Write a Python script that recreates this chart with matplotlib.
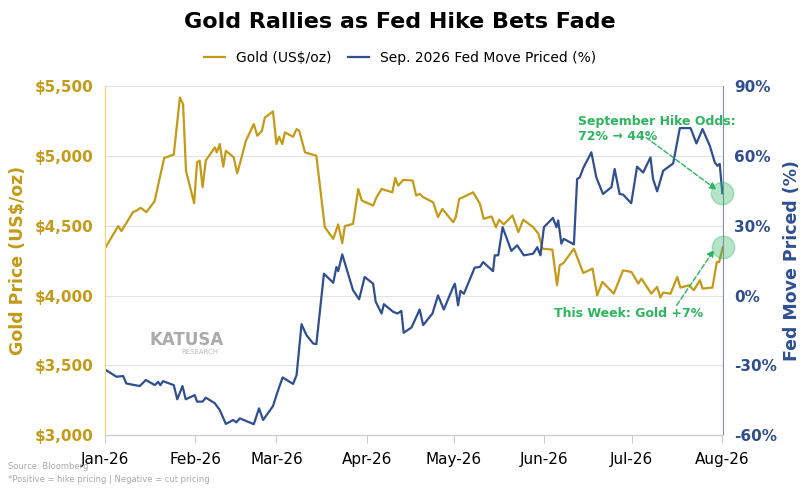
import matplotlib
matplotlib.use("Agg")
import matplotlib.pyplot as plt
import matplotlib.ticker as mt

# days since 2026-01-01
gold_days = [0,4.6,5.7,9.7,11,12.3,14.3,17.1,20.4,23.7,25.8,26.9,27.9,30.7,31.7,32.6,33.6,34.7,37.8,38.5,39.5,40.7,41.6,44.3,45.5,47,48.5,51.2,52.4,54,55,57.8,59,59.9,61,61.9,64.7,65.9,66.8,68.8,72.7,75.6,78.5,80.2,81.6,82.5,85.3,87.1,88.3,92.2,93.4,95.1,98.8,99.8,100.8,102.6,105.8,107,108.2,109.4,112.8,114.5,116,119.7,120.6,121.8,123.1,126.6,128.9,130.2,132.9,134.4,135.5,137.1,140.1,142.1,143.8,147.2,149,150.4,153.8,155.4,156.3,157.6,161.2,164.4,167.6,169.2,171,174.9,178.1,181,183.3,184.4,187.8,189.8,190.9,191.9,194.4,196.7,197.8,200.8,202.4,204.5,205.4,208.8,210.3,211.1,212.4]
gold_vals = [4336,4498,4462,4598,4610,4629,4598,4676,4986,5010,5419,5371,4895,4662,4955,4967,4776,4967,5062,5026,5086,4924,5038,4990,4876,4990,5110,5229,5145,5181,5276,5319,5086,5138,5086,5169,5138,5193,5181,5026,5002,4490,4407,4510,4376,4498,4514,4764,4681,4645,4705,4764,4740,4843,4788,4829,4824,4717,4729,4705,4669,4562,4621,4526,4562,4693,4705,4740,4657,4550,4567,4490,4543,4510,4574,4455,4543,4490,4443,4336,4329,4074,4217,4233,4336,4162,4193,4002,4098,4014,4181,4169,4086,4121,4014,4062,3986,4021,4014,4133,4057,4074,4038,4110,4050,4057,4240,4240,4348]
fed_days = [0,4,6.3,7.4,12,14.1,17.2,18.3,19.1,20,23.7,24.9,26.7,27.8,30.9,31.7,33.6,34.7,37.8,39.5,41.6,44.1,45.2,46.4,51.2,53,54.4,57.8,59.2,61.1,64.7,65.9,67.6,69.3,71.6,72.7,75.3,78.5,79.6,80.2,81.6,85.3,87.4,89.3,92.2,93.1,95.1,95.9,99.1,100.6,101.9,102.7,105.4,108.2,109.4,112.6,114.5,116.5,119.7,120.3,121.4,122.2,123.4,127.1,128.9,130,133.4,134,135.2,136.7,139.7,141.7,144,147.2,148.6,149.7,150.9,154,155.2,155.8,156.9,157.7,161.2,162.3,163.2,164.4,167.2,168.9,171.2,174.1,175.2,176.9,178.1,180.9,182.9,185,187.5,188.4,189.8,191.9,195.3,195.9,197.6,201.3,203.3,205.4,207.9,209.6,210.5,211.3,212.2]
fed_vals = [-31.7,-34.9,-34.6,-37.8,-38.9,-36.3,-38.5,-37.1,-38.5,-36.8,-38.5,-44.6,-38.9,-44.6,-42.8,-45.6,-45.6,-43.9,-46.3,-49.2,-55.2,-53.5,-54.5,-52.8,-55.3,-48.5,-53.5,-47.5,-42,-35.2,-38,-34.2,-12.3,-17,-20.6,-20.9,9.4,5.5,12.3,10.5,17.7,2.3,-1.6,8,5.1,-2.7,-7.7,-3.7,-7,-7.7,-6.6,-16,-13.7,-6,-12.7,-7.7,0.1,-6,3.7,5.1,-4.2,2,0.8,12,12.3,14.4,10.5,17.3,17.3,29.4,19.2,21.6,17.3,18,20.8,17.3,29.4,33.4,29.4,32.3,22.3,24.4,22,50.1,50.8,54.8,61.6,50.8,43.7,46.6,54.4,43.7,43.4,39.7,55.4,52.9,59.4,50.1,44.8,53.7,56.8,60.8,72,72,65.4,71.6,64.4,57.3,55.8,56.6,44]
month_days = [0,31,59,90,120,151,181,212]
month_labels = ["Jan-26","Feb-26","Mar-26","Apr-26","May-26","Jun-26","Jul-26","Aug-26"]

GOLD = "#C49A17"; BLUE = "#2F4F91"; GREEN = "#2DB55D"

fig = plt.figure(figsize=(8, 4.9), dpi=100)
ax = fig.add_axes([0.131, 0.112, 0.773, 0.712])
ax2 = ax.twinx()

ax.set_ylim(3000, 5500); ax.set_xlim(0, 212.5)
ax2.set_ylim(-60, 90)
ax.set_yticks(range(3000, 5501, 500))
ax.yaxis.set_major_formatter(mt.FuncFormatter(lambda v, p: f"${v:,.0f}"))
ax2.set_yticks(range(-60, 91, 30))
ax2.yaxis.set_major_formatter(mt.FuncFormatter(lambda v, p: f"{v:.0f}%"))
ax.grid(axis="y", color="#e3e3e3", lw=0.8)
ax.set_xticks(month_days); ax.set_xticklabels(month_labels, fontsize=11)
ax.tick_params(axis="x", length=6, color="#cccccc", pad=6)
ax.tick_params(axis="y", length=0, labelsize=11, labelcolor=GOLD, pad=8)
ax2.tick_params(axis="y", length=0, labelsize=11, labelcolor=BLUE, pad=8)
for t in ax.get_yticklabels() + ax2.get_yticklabels():
    t.set_fontweight("bold")
for a in (ax, ax2):
    a.spines["top"].set_visible(False)
ax2.spines["left"].set_color("#F5D77A")
ax2.spines["right"].set_color("#7D8FB3")
ax2.spines["bottom"].set_color("#cccccc")
ax.spines["right"].set_visible(False)
ax.spines["left"].set_color("#F5D77A")
ax.spines["bottom"].set_color("#cccccc")

l1, = ax.plot(gold_days, gold_vals, color=GOLD, lw=1.6, label="Gold (US$/oz)")
l2, = ax2.plot(fed_days, fed_vals, color=BLUE, lw=1.6, label="Sep. 2026 Fed Move Priced (%)")

ax.set_ylabel("Gold Price (US$/oz)", color=GOLD, fontsize=12.5, fontweight="bold", labelpad=6)
ax2.set_ylabel("Fed Move Priced (%)", color=BLUE, fontsize=12.5, fontweight="bold", labelpad=4)

fig.text(0.5, 0.955, "Gold Rallies as Fed Hike Bets Fade", ha="center", va="center", fontsize=16, fontweight="bold")
fig.legend(handles=[l1, l2], loc="center", bbox_to_anchor=(0.5, 0.882), ncol=2, frameon=False, fontsize=10, handlelength=1.5, columnspacing=1.2)

# markers
ax2.scatter([fed_days[-1]], [fed_vals[-1]], s=260, color=GREEN, alpha=0.35, zorder=5, clip_on=False)
ax.scatter([gold_days[-1]], [gold_vals[-1]], s=260, color=GREEN, alpha=0.35, zorder=5, clip_on=False)
ax2.text(162.5, 75, "September Hike Odds:", color=GREEN, fontsize=9, fontweight="bold", ha="left", va="center")
ax2.text(162.5, 68.3, "72% → 44%", color=GREEN, fontsize=9, fontweight="bold", ha="left", va="center")
ax2.annotate("", xy=(fed_days[-1]-2, fed_vals[-1]+1.5), xytext=(186, 68),
             arrowprops=dict(arrowstyle="-|>", color=GREEN, ls="--", lw=1, shrinkA=0, shrinkB=0))
ax.text(180, 3875, "This Week: Gold +7%", color=GREEN, fontsize=9, fontweight="bold", ha="center", va="center")
ax.annotate("", xy=(gold_days[-1]-3, gold_vals[-1]-20), xytext=(196.5, 3930),
            arrowprops=dict(arrowstyle="-|>", color=GREEN, ls="--", lw=1, shrinkA=0, shrinkB=0))

fig.text(0.233, 0.307, "KATUSA", color="#aaaaaa", fontsize=12, fontweight="bold", ha="center", va="center")
fig.text(0.25, 0.282, "RESEARCH", color="#bbbbbb", fontsize=5, ha="center", va="center")
fig.text(0.01, 0.043, "Source: Bloomberg", color="#aaaaaa", fontsize=6)
fig.text(0.01, 0.017, "*Positive = hike pricing | Negative = cut pricing", color="#aaaaaa", fontsize=6)

fig.savefig("out.png", dpi=100)
